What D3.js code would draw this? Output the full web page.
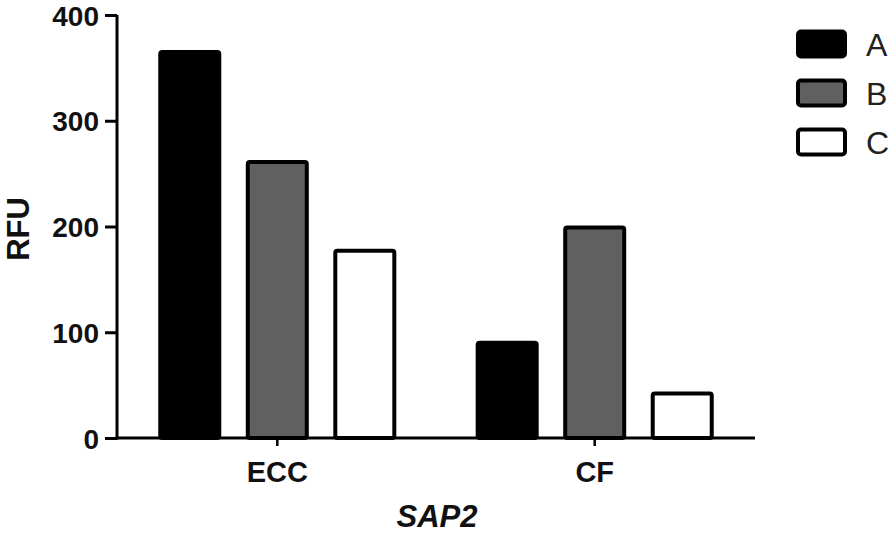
<!DOCTYPE html>
<html>
<head>
<meta charset="utf-8">
<script src="https://d3js.org/d3.v7.min.js"></script>
<style>
  body { margin: 0; background: #fff; }
  text { font-family: "Liberation Sans", Arial, sans-serif; }
</style>
</head>
<body>
<div id="chart"></div>
<script>
var groups = ["ECC", "CF"];
var series = ["A", "B", "C"];
var valuesA = [365, 90];
var valuesB = [261, 199];
var valuesC = [177, 42];
var yTicks = [0, 100, 200, 300, 400];
var fills = ["#000000", "#606060", "#ffffff"];

var W = 896, H = 534;
var x0 = 117, x1 = 755, yTop = 15, yBot = 438;

var svg = d3.select("#chart").append("svg")
  .attr("width", W).attr("height", H);

var data = [];
groups.forEach(function(g, i) {
  data.push({group: g, key: "A", value: valuesA[i]});
  data.push({group: g, key: "B", value: valuesB[i]});
  data.push({group: g, key: "C", value: valuesC[i]});
});

var x = d3.scaleBand().domain(groups).range([x0, x1])
  .paddingInner(0.25).paddingOuter(0.13);
var xs = d3.scaleBand().domain(series).range([0, x.bandwidth()])
  .paddingInner(0.28).paddingOuter(0);
var y = d3.scaleLinear().domain([0, 400]).range([yBot, yTop]);
var color = d3.scaleOrdinal().domain(series).range(fills);

// bars
svg.append("g").selectAll("rect").data(data).enter().append("rect")
  .attr("x", function(d) { return x(d.group) + xs(d.key) + 2; })
  .attr("y", function(d) { return y(d.value); })
  .attr("width", xs.bandwidth() - 4)
  .attr("height", function(d) { return y(0) - y(d.value); })
  .attr("rx", 2)
  .attr("fill", function(d) { return color(d.key); })
  .attr("stroke", "#000").attr("stroke-width", 4);

// y axis
var yAxis = svg.append("g").attr("transform", "translate(" + x0 + ",0)")
  .call(d3.axisLeft(y).tickValues(yTicks).tickSize(12).tickPadding(6));
yAxis.select(".domain").attr("stroke-width", 3).attr("d", "M0," + y(400) + "V" + (y(0) + 1.5));
yAxis.selectAll(".tick line").attr("stroke-width", 3);
yAxis.selectAll(".tick text").attr("font-size", 28).attr("font-weight", "bold")
  .attr("fill", "#111").attr("dy", "0.36em");

// x axis
var xAxis = svg.append("g").attr("transform", "translate(0," + yBot + ")")
  .call(d3.axisBottom(x).tickSize(8).tickPadding(10));
xAxis.select(".domain").attr("stroke-width", 3).attr("d", "M" + (x0 - 1.5) + ",0H" + x1);
xAxis.selectAll(".tick line").attr("stroke-width", 2.5);
xAxis.selectAll(".tick text").attr("font-size", 29).attr("font-weight", "bold")
  .attr("fill", "#111").attr("dy", "0.9em");

// axis titles
svg.append("text")
  .attr("transform", "translate(29," + 229 + ") rotate(-90)")
  .attr("text-anchor", "middle")
  .attr("font-size", 31).attr("font-weight", "bold").attr("fill", "#111")
  .text("RFU");

svg.append("text")
  .attr("x", 437).attr("y", 527)
  .attr("text-anchor", "middle")
  .attr("font-size", 31).attr("font-weight", "bold").attr("font-style", "italic")
  .attr("fill", "#111")
  .text("SAP2");

// legend
var ly = d3.scalePoint().domain(series).range([44, 142]);
var leg = svg.append("g").selectAll("g").data(series).enter().append("g")
  .attr("transform", function(d) { return "translate(0," + ly(d) + ")"; });
leg.append("rect")
  .attr("x", 798).attr("y", -12.5).attr("width", 47).attr("height", 25)
  .attr("rx", 3)
  .attr("fill", function(d) { return color(d); })
  .attr("stroke", "#000").attr("stroke-width", 4);
leg.append("text")
  .attr("x", 866).attr("y", 0).attr("dy", "0.36em")
  .attr("font-size", 32).attr("fill", "#222")
  .text(function(d) { return d; });
</script>
</body>
</html>
